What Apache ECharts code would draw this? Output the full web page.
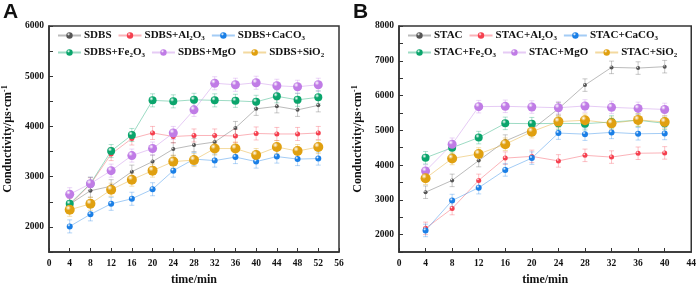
<!DOCTYPE html>
<html>
<head>
<meta charset="utf-8">
<script src="https://cdn.jsdelivr.net/npm/echarts@6/dist/echarts.min.js"></script>
<style>
  html, body { margin: 0; padding: 0; background: #fff; }
  #chart { width: 699px; height: 291px; }
</style>
</head>
<body>
<div id="chart"></div>
<script>
// time points (min)
const timesA = [4, 8, 12, 16, 20, 24, 28, 32, 36, 40, 44, 48, 52]
const timesB = [4, 8, 12, 16, 20, 24, 28, 32, 36, 40]

// panel A - SDBS
const sdbs     = [2450, 2720, 2810, 3100, 3300, 3550, 3630, 3690, 3970, 4350, 4400, 4330, 4420]
const sdbsAl   = [2440, 2850, 3450, 3760, 3870, 3800, 3820, 3820, 3810, 3860, 3850, 3850, 3870]
const sdbsCa   = [2010, 2250, 2460, 2560, 2750, 3120, 3350, 3320, 3390, 3300, 3400, 3350, 3360]
const sdbsFe   = [2460, 2860, 3510, 3830, 4520, 4500, 4530, 4520, 4510, 4490, 4600, 4530, 4580]
const sdbsMg   = [2650, 2860, 3120, 3420, 3560, 3870, 4330, 4860, 4830, 4870, 4810, 4790, 4830]
const sdbsSi   = [2340, 2460, 2740, 2940, 3120, 3300, 3330, 3560, 3560, 3430, 3590, 3510, 3590]

// panel B - STAC
const stac     = [3220, 3560, 4130, 4690, 5020, 5620, 6300, 6810, 6790, 6830]
const stacAl   = [2180, 2750, 3560, 4200, 4250, 4120, 4280, 4230, 4340, 4350]
const stacCa   = [2120, 2980, 3350, 3860, 4200, 4920, 4890, 4940, 4900, 4910]
const stacFe   = [4210, 4500, 4790, 5200, 5190, 5200, 5190, 5240, 5290, 5200]
const stacMg   = [3830, 4600, 5680, 5690, 5670, 5650, 5700, 5660, 5630, 5600]
const stacSi   = [3620, 4190, 4320, 4600, 4960, 5250, 5290, 5200, 5300, 5240]

const errA = 130
const errB = 180

const yTicksA = [2000, 3000, 4000, 5000, 6000]
const yTicksB = [2000, 3000, 4000, 5000, 6000, 7000, 8000]

const colors = {
  base: '#555555',
  al: '#f5404f',
  ca: '#1a7fe6',
  fe: '#0aa56c',
  mg: '#c07ce6',
  si: '#e0a010'
}

const chart = echarts.init(document.getElementById('chart'))

function ball (c) {
  return new echarts.graphic.RadialGradient(0.35, 0.3, 0.75, [
    { offset: 0, color: '#ffffff' },
    { offset: 0.35, color: c },
    { offset: 1, color: c }
  ])
}

const rich = {
  a: { fontFamily: 'Liberation Serif', fontWeight: 'bold', fontSize: 11, color: '#111' },
  s: { fontFamily: 'Liberation Serif', fontWeight: 'bold', fontSize: 7, color: '#111', padding: [6, 0, 0, 0] }
}

function label (name) {
  // turn digits after letters into subscripts
  return name.replace(/([A-Za-z]+)(\d)?/g, (m, w, d) => '{a|' + w + '}' + (d ? '{s|' + d + '}' : '')).replace(/\+/g, '{a|+}')
}

const seriesList = []
function addSeries (name, times, vals, c, size, idx, err) {
  seriesList.push({
    name: name,
    type: 'line',
    xAxisIndex: idx,
    yAxisIndex: idx,
    data: times.map((t, i) => [t, vals[i]]),
    symbol: 'circle',
    symbolSize: size,
    itemStyle: { color: ball(c), borderWidth: 0 },
    lineStyle: { color: c, width: 1, opacity: 0.4 },
    z: 3
  })
  seriesList.push({
    name: name + ' err',
    type: 'custom',
    xAxisIndex: idx,
    yAxisIndex: idx,
    data: times.map((t, i) => [t, vals[i]]),
    renderItem: (params, api) => {
      const x = api.value(0)
      const y = api.value(1)
      const top = api.coord([x, y + err])
      const bot = api.coord([x, y - err])
      const style = { stroke: c, lineWidth: 0.8, opacity: 0.4 }
      return {
        type: 'group',
        children: [
          { type: 'line', shape: { x1: top[0], y1: top[1], x2: bot[0], y2: bot[1] }, style: style },
          { type: 'line', shape: { x1: top[0] - 2.5, y1: top[1], x2: top[0] + 2.5, y2: top[1] }, style: style },
          { type: 'line', shape: { x1: bot[0] - 2.5, y1: bot[1], x2: bot[0] + 2.5, y2: bot[1] }, style: style }
        ]
      }
    },
    z: 2
  })
}

addSeries('SDBS', timesA, sdbs, colors.base, 4, 0, errA)
addSeries('SDBS+Al2O3', timesA, sdbsAl, colors.al, 5, 0, errA)
addSeries('SDBS+CaCO3', timesA, sdbsCa, colors.ca, 6, 0, errA)
addSeries('SDBS+Fe2O3', timesA, sdbsFe, colors.fe, 8, 0, errA)
addSeries('SDBS+MgO', timesA, sdbsMg, colors.mg, 9, 0, errA)
addSeries('SDBS+SiO2', timesA, sdbsSi, colors.si, 10, 0, errA)
addSeries('STAC', timesB, stac, colors.base, 4, 1, errB)
addSeries('STAC+Al2O3', timesB, stacAl, colors.al, 5, 1, errB)
addSeries('STAC+CaCO3', timesB, stacCa, colors.ca, 6, 1, errB)
addSeries('STAC+Fe2O3', timesB, stacFe, colors.fe, 8, 1, errB)
addSeries('STAC+MgO', timesB, stacMg, colors.mg, 9, 1, errB)
addSeries('STAC+SiO2', timesB, stacSi, colors.si, 10, 1, errB)

function legend (names, left, top) {
  return {
    data: names,
    left: left,
    top: top,
    itemWidth: 23,
    itemHeight: 8,
    itemGap: 6,
    padding: 0,
    selectedMode: false,
    formatter: label,
    textStyle: { rich: rich, padding: [0, 0, 0, -2] }
  }
}

function xAxis (idx, max) {
  return {
    type: 'value',
    gridIndex: idx,
    min: 0,
    max: max,
    interval: 4,
    name: 'time/min',
    nameLocation: 'middle',
    nameGap: 22,
    nameTextStyle: { fontFamily: 'Liberation Serif', fontWeight: 'bold', fontSize: 12, color: '#111' },
    axisLine: { lineStyle: { color: '#333', width: 1.5 } },
    axisTick: { inside: true, length: 4, lineStyle: { color: '#333' } },
    axisLabel: { fontFamily: 'Liberation Serif', fontWeight: 'bold', fontSize: 9.5, color: '#111', margin: 7 },
    splitLine: { show: false }
  }
}

function yAxis (idx, max, ticks) {
  return {
    type: 'value',
    gridIndex: idx,
    min: 1500,
    max: max,
    interval: 500,
    name: '{a|Conductivity/μs·cm}{s|-1}',
    nameLocation: 'middle',
    nameGap: 34,
    nameTextStyle: {
      rich: {
        a: { fontFamily: 'Liberation Serif', fontWeight: 'bold', fontSize: 12, color: '#111' },
        s: { fontFamily: 'Liberation Serif', fontWeight: 'bold', fontSize: 8, color: '#111', padding: [0, 0, 6, 0] }
      }
    },
    axisLine: { lineStyle: { color: '#333', width: 1.5 } },
    axisTick: { inside: true, length: 4, lineStyle: { color: '#333' } },
    axisLabel: {
      fontFamily: 'Liberation Serif', fontWeight: 'bold', fontSize: 9.5, color: '#111', margin: 5,
      formatter: v => (ticks.includes(v) ? String(v) : '')
    },
    splitLine: { show: false }
  }
}

const option = {
  animation: false,
  backgroundColor: '#fff',
  grid: [
    { left: 48, right: 360, top: 26, bottom: 30, show: true, borderColor: '#333', borderWidth: 1.5 },
    { left: 399, right: 7, top: 26, bottom: 30, show: true, borderColor: '#333', borderWidth: 1.5 }
  ],
  graphic: [
    { type: 'text', left: 3, top: 2, style: { text: 'A', font: 'bold 21px "Liberation Sans"', fill: '#111' } },
    { type: 'text', left: 353, top: 2, style: { text: 'B', font: 'bold 21px "Liberation Sans"', fill: '#111' } }
  ],
  legend: [
    legend(['SDBS', 'SDBS+Al2O3', 'SDBS+CaCO3'], 57, 30),
    legend(['SDBS+Fe2O3', 'SDBS+MgO', 'SDBS+SiO2'], 57, 47),
    legend(['STAC', 'STAC+Al2O3', 'STAC+CaCO3'], 407, 30),
    legend(['STAC+Fe2O3', 'STAC+MgO', 'STAC+SiO2'], 407, 47)
  ],
  xAxis: [xAxis(0, 56), xAxis(1, 44)],
  yAxis: [yAxis(0, 6000, yTicksA), yAxis(1, 8000, yTicksB)],
  series: seriesList
}

option && chart.setOption(option)
</script>
</body>
</html>
